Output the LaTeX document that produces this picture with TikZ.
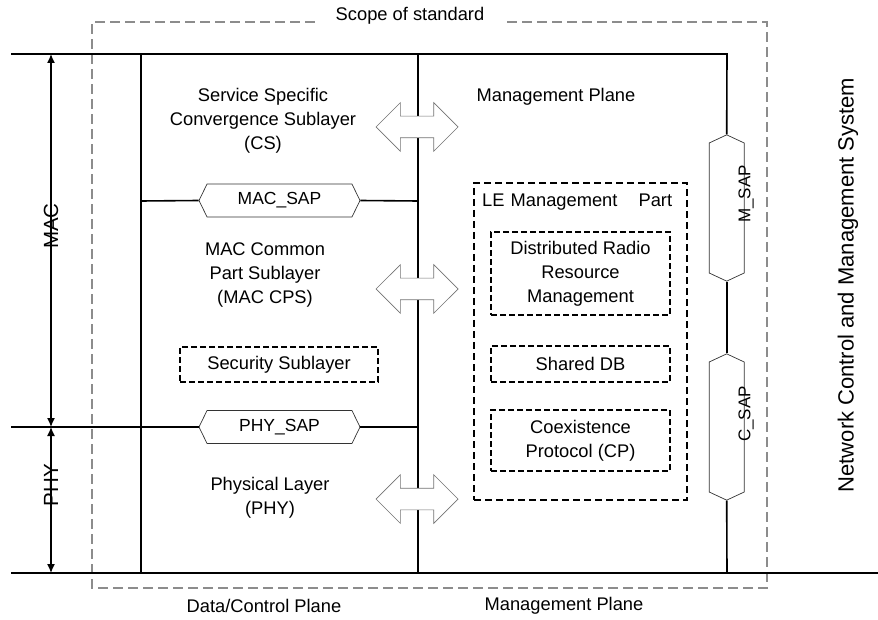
\documentclass[tikz,border=0pt]{standalone}
\usepackage{fontspec}
\setmainfont{Liberation Sans}
\usetikzlibrary{arrows.meta,shapes.arrows,shapes.symbols}

\tikzset{
  stack/.style={line width=1.6pt},
  scopeline/.style={draw=black!45, line width=2pt, dash pattern=on 10pt off 5pt},
  sapbox/.style={signal, signal to=east and west, signal pointer angle=128,
    draw=black!80, fill=white, line width=0.7pt, inner sep=0pt,
    minimum width=161pt, minimum height=33pt,
    font=\fontsize{17.5}{21}\selectfont},
  mgmtsap/.style={sapbox, signal to=north and south, signal pointer angle=130,
    minimum width=35pt, minimum height=130pt},
  saplabel/.style={rotate=90, inner sep=0pt, font=\fontsize{17}{20}\selectfont},
  dblarrow/.style={double arrow, draw=black!55, fill=white, line width=0.7pt,
    inner sep=10.5pt, minimum height=82pt, double arrow head extend=13.5pt},
  dbox/.style={draw, line width=1.5pt, dash pattern=on 6pt off 3pt, align=center},
  layertext/.style={align=center},
  extent/.style={{Latex[length=9pt,width=8pt]}-{Latex[length=9pt,width=8pt]}, line width=1.4pt}
}

\begin{document}
\begin{tikzpicture}[x=1pt, y=-1pt, font=\fontsize{18.3}{24}\selectfont]
  \useasboundingbox (0,0) rectangle (878,620);

  % corners of the layer stack
  \coordinate (topL) at (11,54);
  \coordinate (topR) at (727,54);
  \coordinate (phyL) at (11,427);
  \coordinate (botL) at (11,573);
  \coordinate (botR) at (878,573);
  \coordinate (dcT) at (141,54);
  \coordinate (dcB) at (141,573);
  \coordinate (mpT) at (418,54);
  \coordinate (mpB) at (418,573);
  \coordinate (nmB) at (727,573);
  \coordinate (macL) at (141,201);
  \coordinate (macR) at (418,201);
  \coordinate (phyR) at (418,427);

  % scope of standard
  \node[inner xsep=21pt] (scope) at (410,16) {Scope of standard};
  \coordinate (sTL) at (92,22);
  \coordinate (sBL) at (92,588);
  \coordinate (sBR) at (767,588);
  \coordinate (sTR) at (767,22);
  \draw[scopeline] (scope.west |- sTL) -- (sTL) -- (sBL) -- (sBR) -- (sTR) -- (scope.east |- sTR);

  % SAPs
  \node[sapbox] (macsap) at (279.5,200.5) {MAC\_SAP};
  \node[sapbox] (physap) at (279.5,427) {PHY\_SAP};
  \node[mgmtsap] (msap) at (726.7,208) {};
  \node[mgmtsap] (csap) at (726.7,427) {};
  \node[saplabel] at (746,194) {M\_SAP};
  \node[saplabel] at (746,414) {C\_SAP};

  % stack lines
  \draw[stack] (topL) -- (topR) -- (msap.north);
  \draw[stack] (msap.south) -- (csap.north);
  \draw[stack] (csap.south) -- (nmB);
  \draw[stack] (botL) -- (botR);
  \draw[stack] (dcT) -- (dcB);
  \draw[stack] (mpT) -- (mpB);
  \draw[stack] (macL) -- (macsap.west);
  \draw[stack] (macsap.east) -- (macR);
  \draw[stack] (phyL) -- (physap.west);
  \draw[stack] (physap.east) -- (phyR);

  % MAC / PHY extent
  \coordinate (macT) at (51,54);
  \coordinate (macB) at (51,427);
  \coordinate (phyB) at (51,573);
  \draw[extent] (macT) -- (macB);
  \draw[extent] (macB) -- (phyB);
  \node[rotate=90, font=\fontsize{20.5}{24}\selectfont] (maclbl) at (51,226) {MAC};
  \node[rotate=90, font=\fontsize{20.5}{24}\selectfont] (phylbl) at (51,485) {PHY};

  % data/control plane
  \node[layertext] (cs) at (263,121) {Service Specific\\Convergence Sublayer\\(CS)};
  \node[layertext] (cps) at (265,275) {MAC Common\\Part Sublayer\\(MAC CPS)};
  \node[dbox, line width=2pt, minimum width=198pt, minimum height=35pt] (sec) at (279,364.5) {Security Sublayer};
  \node[layertext] (phy) at (270,498) {Physical Layer\\(PHY)};

  % plane interfaces
  \node[dblarrow] (ifcs) at (417,127) {};
  \node[dblarrow] (ifcps) at (417,289) {};
  \node[dblarrow] (ifphy) at (417,499) {};

  % management plane
  \node (mp) at (556,97) {Management Plane};
  \node[dbox, dash pattern=on 7pt off 4pt, minimum width=213pt, minimum height=317pt] (le) at (580.5,341.5) {};
  \node[text width=190pt, inner sep=0pt, anchor=west] (lelbl) at (482,202) {LE Management\hfill Part};
  \node[dbox, minimum width=179pt, minimum height=83pt] (drrm) at (580.5,273.5) {Distributed Radio\\Resource\\Management};
  \node[dbox, minimum width=179pt, minimum height=36pt] (sdb) at (580.5,364) {Shared DB};
  \node[dbox, minimum width=179pt, minimum height=61pt] (cp) at (580.5,440.5) {Coexistence\\Protocol (CP)};

  % captions
  \node (dcp) at (264,606) {Data/Control Plane};
  \node (mpb) at (564,606) {Management Plane};
  \node[rotate=90, font=\fontsize{22}{26}\selectfont] (ncms) at (848,285) {Network Control and Management System};
\end{tikzpicture}
\end{document}
